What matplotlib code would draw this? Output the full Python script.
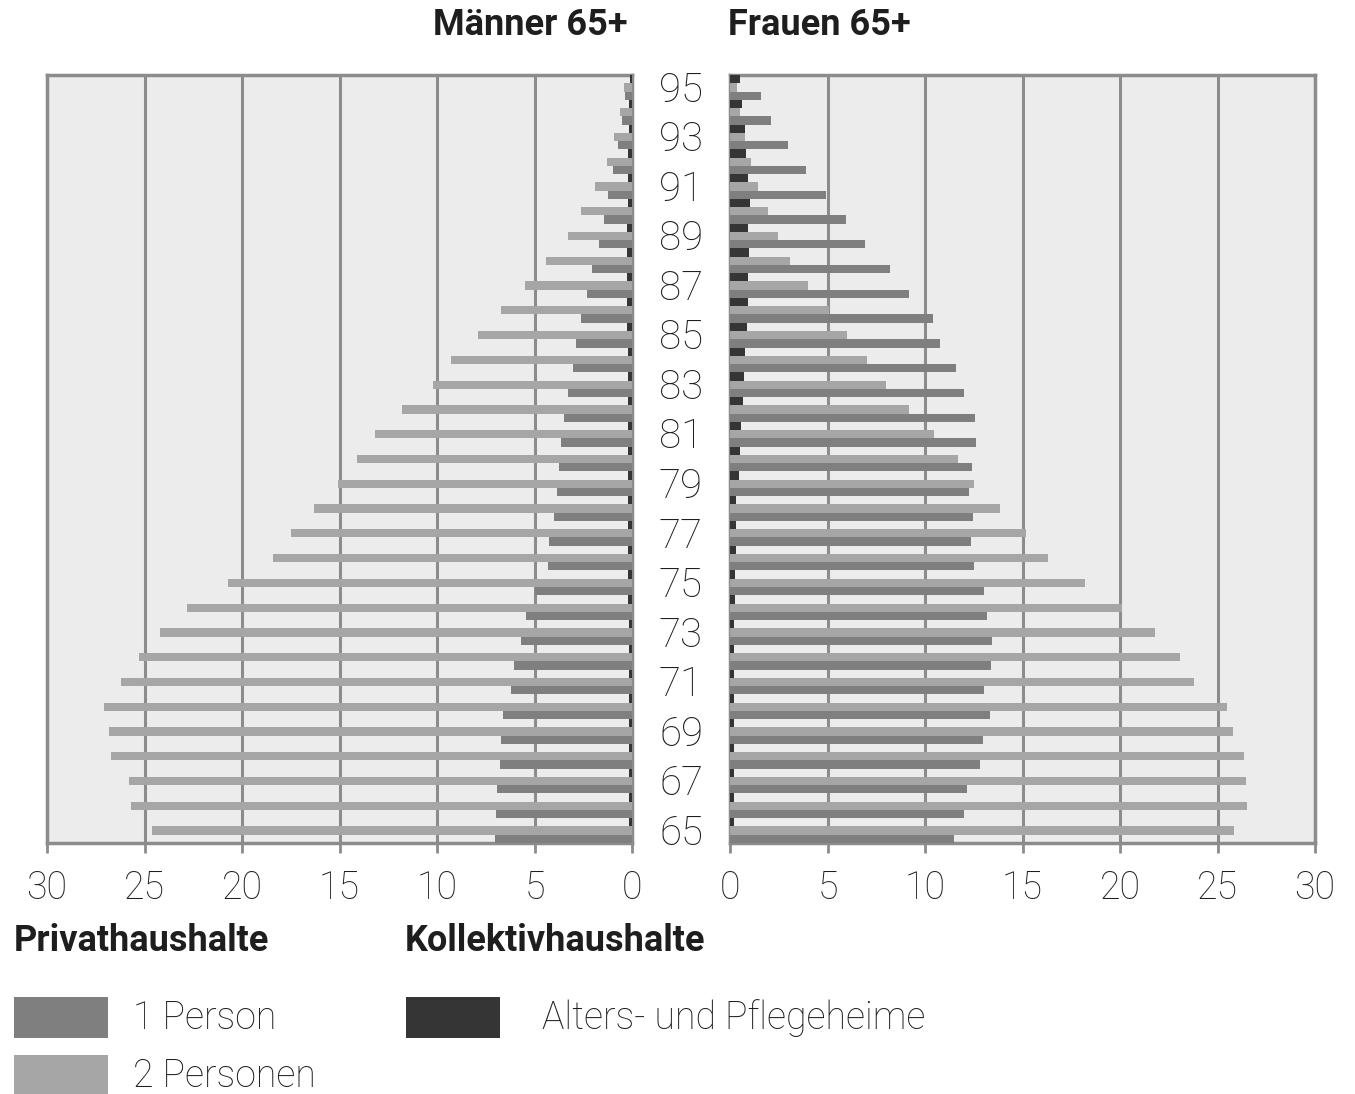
import matplotlib
matplotlib.use("Agg")
import matplotlib.pyplot as plt
from matplotlib.patches import Rectangle
from matplotlib.transforms import blended_transform_factory, ScaledTranslation

plt.rcParams['font.family'] = ['Roboto', 'DejaVu Sans']

ages = list(range(65, 96))
# values listed from age 65 up to age 95
men_1p = [7.04, 6.98, 6.9, 6.76, 6.73, 6.63, 6.22, 6.04, 5.69, 5.45,
          4.96, 4.29, 4.27, 4.02, 3.86, 3.75, 3.63, 3.51, 3.29, 3.04,
          2.88, 2.63, 2.31, 2.06, 1.71, 1.45, 1.25, 0.98, 0.73, 0.49, 0.35]
men_2p = [24.6, 25.7, 25.8, 26.7, 26.8, 27.1, 26.2, 25.3, 24.2, 22.8,
          20.7, 18.4, 17.5, 16.3, 15.1, 14.1, 13.2, 11.8, 10.2, 9.3,
          7.9, 6.7, 5.5, 4.4, 3.3, 2.6, 1.9, 1.3, 0.94, 0.61, 0.41]
men_heim = [0.17, 0.17, 0.17, 0.17, 0.17, 0.17, 0.17, 0.17, 0.17, 0.2,
            0.2, 0.2, 0.2, 0.22, 0.22, 0.22, 0.22, 0.22, 0.22, 0.22,
            0.25, 0.25, 0.25, 0.25, 0.25, 0.22, 0.22, 0.2, 0.17, 0.13, 0.08]
women_1p = [11.49, 12.02, 12.16, 12.8, 12.98, 13.35, 13.02, 13.37, 13.45, 13.2,
            13.04, 12.5, 12.35, 12.47, 12.25, 12.41, 12.59, 12.55, 12.0, 11.6,
            10.78, 10.39, 9.16, 8.22, 6.92, 5.96, 4.92, 3.9, 2.98, 2.12, 1.61]
women_2p = [25.84, 26.5, 26.45, 26.35, 25.8, 25.5, 23.8, 23.1, 21.78, 20.08,
            18.18, 16.3, 15.2, 13.86, 12.5, 11.7, 10.47, 9.18, 8.0, 7.02,
            6.0, 5.1, 4.0, 3.06, 2.47, 1.96, 1.45, 1.1, 0.75, 0.51, 0.35]
women_heim = [0.22, 0.22, 0.22, 0.22, 0.22, 0.22, 0.22, 0.22, 0.22, 0.24,
              0.25, 0.31, 0.33, 0.33, 0.45, 0.49, 0.57, 0.65, 0.73, 0.75,
              0.86, 0.94, 0.94, 0.98, 0.94, 1.0, 0.94, 0.84, 0.75, 0.59, 0.49]
xticks = [0, 5, 10, 15, 20, 25, 30]
age_labels = list(range(65, 96, 2))

c_light = '#a6a6a6'
c_med = '#7f7f7f'
c_dark = '#353535'
c_bg = '#ececec'
c_grid = '#8c8c8c'
c_text = '#1e1e1e'

W, H = 1355, 1094
fig = plt.figure(figsize=(W / 100, H / 100), dpi=100)
fig.patch.set_facecolor('white')

def px_axes(x0, x1, y0, y1):
    return fig.add_axes([x0 / W, 1 - y1 / H, (x1 - x0) / W, (y1 - y0) / H])

axL = px_axes(47, 632, 75, 843)
axR = px_axes(730, 1315, 75, 843)

h = 1 / 3
for ax, p1, p2, heim in [(axL, men_1p, men_2p, men_heim), (axR, women_1p, women_2p, women_heim)]:
    ax.set_facecolor(c_bg)
    ax.barh([a + h for a in ages], heim, height=h, color=c_dark, linewidth=0, zorder=3)
    ax.barh(ages, p2, height=h, color=c_light, linewidth=0, zorder=3)
    ax.barh([a - h for a in ages], p1, height=h, color=c_med, linewidth=0, zorder=3)
    ax.set_ylim(64.5, 95.5)
    ax.set_yticks([])
    ax.set_xticks(xticks)
    ax.set_xticklabels([str(t) for t in xticks], fontsize=27, fontweight='light', color=c_text)
    ax.tick_params(axis='x', direction='out', length=7, width=2, color=c_grid, pad=12)
    ax.grid(axis='x', color=c_grid, linewidth=2.2, zorder=1)
    ax.set_axisbelow(True)
    for s in ax.spines.values():
        s.set_color(c_grid)
        s.set_linewidth(2.5)

axL.set_xlim(30, 0)
axR.set_xlim(0, 30)

trans = blended_transform_factory(fig.transFigure, axR.transData) + \
    ScaledTranslation(0, -3 / 100, fig.dpi_scale_trans)
for a in age_labels:
    fig.text(681 / W, a, str(a), transform=trans, ha='center', va='center',
             fontsize=29, fontweight='light', color=c_text)

fig.text(628 / W, 1 - 25 / H, 'Männer 65+', ha='right', va='center',
         fontsize=26, fontweight='bold', color=c_text)
fig.text(728 / W, 1 - 25 / H, 'Frauen 65+', ha='left', va='center',
         fontsize=26, fontweight='bold', color=c_text)

fig.text(14 / W, 1 - 941 / H, 'Privathaushalte', ha='left', va='center',
         fontsize=26, fontweight='bold', color=c_text)
fig.text(405 / W, 1 - 941 / H, 'Kollektivhaushalte', ha='left', va='center',
         fontsize=26, fontweight='bold', color=c_text)

def legend_patch(x0, y0, x1, y1, color):
    fig.patches.append(Rectangle((x0 / W, 1 - y1 / H), (x1 - x0) / W, (y1 - y0) / H,
                                 transform=fig.transFigure, facecolor=color,
                                 edgecolor='none'))

legend_patch(14, 997, 108, 1038, c_med)
legend_patch(14, 1055, 108, 1094, c_light)
legend_patch(406, 997, 500, 1038, c_dark)
fig.text(133 / W, 1 - 1018 / H, '1 Person', ha='left', va='center',
         fontsize=27, fontweight='light', color=c_text)
fig.text(133 / W, 1 - 1076 / H, '2 Personen', ha='left', va='center',
         fontsize=27, fontweight='light', color=c_text)
fig.text(542 / W, 1 - 1018 / H, 'Alters- und Pflegeheime', ha='left', va='center',
         fontsize=27, fontweight='light', color=c_text)

fig.savefig('out.png', dpi=100, facecolor='white')
